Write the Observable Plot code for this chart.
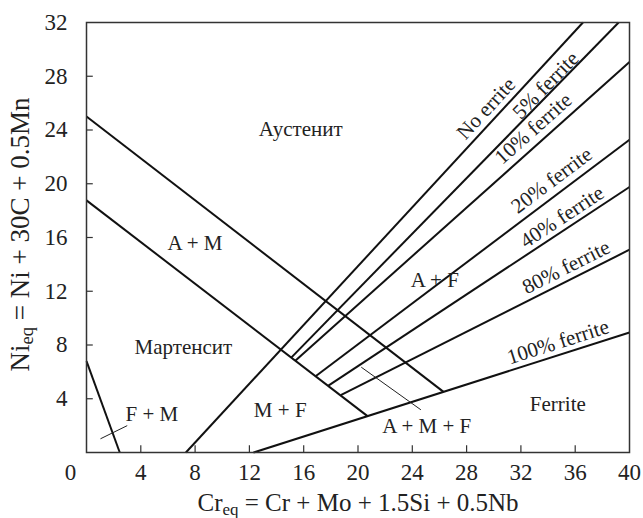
<!DOCTYPE html>
<html><head><meta charset="utf-8">
<script src="https://cdn.jsdelivr.net/npm/d3@7"></script>
<script src="https://cdn.jsdelivr.net/npm/@observablehq/plot@0.6"></script>
<style>
body{margin:0;background:#fff}
svg{display:block}
#chart svg, #chart svg text { font-family: "Liberation Serif", "Times New Roman", serif !important; }
</style>
</head><body><div id="chart"></div>
<script>
// Tick values
const xTickLabels = [4, 8, 12, 16, 20, 24, 28, 32, 36, 40];
const yTickLabels = [4, 8, 12, 16, 20, 24, 28, 32];
const xTickMarks = [4, 8, 12, 16, 20, 24, 28, 32, 36];
const yTickMarks = [4, 8, 12, 16, 20, 24, 28];

// Boundary lines [x1, y1, x2, y2] in (Cr_eq, Ni_eq)
const austeniteBoundary = [0, 25, 26.3, 4.51];
const martensiteBoundary = [0, 18.76, 20.7, 2.71];
const fmBoundary = [0, 6.8, 2.45, 0];
const noFerrite = [7.32, 0, 36.57, 32];
const ferrite5 = [15.1, 7.08, 39.2, 32];
const ferrite10 = [15.4, 6.85, 40, 29.06];
const ferrite20 = [16.9, 5.69, 40, 23.28];
const ferrite40 = [17.82, 4.98, 40, 19.76];
const ferrite80 = [18.73, 4.27, 40, 15.09];
const ferrite100 = [12.3, 0, 40, 8.93];
const leaderFM = [1.03, 1.02, 3.0, 2.0];
const leaderAMF = [20.24, 6.35, 24.63, 3.18];

// Region labels
const regionNames = ["Аустенит", "A + M", "Мартенсит", "F + M", "M + F", "A + F", "A + M + F", "Ferrite"];
const regionX = [15.78, 7.99, 7.14, 4.82, 14.27, 25.66, 25.06, 34.72];
const regionY = [24.03, 15.54, 7.85, 2.88, 3.13, 12.81, 1.94, 3.57];

// Iso-ferrite line labels
const ferriteNames = ["No errite", "5% ferrite", "10% ferrite", "20% ferrite", "40% ferrite", "80% ferrite", "100% ferrite"];
const ferriteLabelX = [29.44, 33.82, 32.91, 34.27, 35.03, 35.33, 34.73];
const ferriteLabelY = [25.6, 27.33, 24.1, 20.26, 17.53, 13.8, 8.22];
const ferriteLines = [noFerrite, ferrite5, ferrite10, ferrite20, ferrite40, ferrite80, ferrite100];

const xLabel = "Cr_eq = Cr + Mo + 1.5Si + 0.5Nb";
const yLabel = "Ni_eq = Ni + 30C + 0.5Mn";

const W = 643, H = 518;
const mL = 86, mR = 14, mT = 22, mB = 66;
const pxPerX = (W - mL - mR) / 40, pxPerY = (H - mT - mB) / 32;

const mainSegs = [austeniteBoundary, martensiteBoundary, fmBoundary, ...ferriteLines]
  .map(([x1, y1, x2, y2]) => ({x1, y1, x2, y2}));
const thinSegs = [leaderFM, leaderAMF].map(([x1, y1, x2, y2]) => ({x1, y1, x2, y2}));
const regions = regionNames.map((t, i) => ({t, x: regionX[i], y: regionY[i]}));
const ferriteLabels = ferriteNames.map((t, i) => {
  const [x1, y1, x2, y2] = ferriteLines[i];
  const slope = (y2 - y1) / (x2 - x1) * pxPerY / pxPerX;
  return {t, x: ferriteLabelX[i], y: ferriteLabelY[i], r: -Math.atan(slope) * 180 / Math.PI};
});

const serif = "Liberation Serif";
const chart = Plot.plot({
  width: W, height: H,
  marginLeft: mL, marginRight: mR, marginTop: mT, marginBottom: mB,
  style: {fontFamily: serif, fontSize: "23px", background: "#fff", color: "#222"},
  x: {domain: [0, 40], ticks: xTickLabels, tickSize: 0, tickPadding: 11, label: null},
  y: {domain: [0, 32], ticks: yTickLabels, tickSize: 0, tickPadding: 19, label: null},
  marks: [
    Plot.ruleX(xTickMarks, {x: d => d, y1: 0, y2: 0.5, stroke: "#333", strokeWidth: 1.2}),
    Plot.ruleY(yTickMarks, {y: d => d, x1: 0, x2: 0.5, stroke: "#333", strokeWidth: 1.2}),
    Plot.link(mainSegs, {x1: "x1", y1: "y1", x2: "x2", y2: "y2", stroke: "#111", strokeWidth: 2}),
    Plot.link(thinSegs, {x1: "x1", y1: "y1", x2: "x2", y2: "y2", stroke: "#222", strokeWidth: 1}),
    Plot.text(regions, {x: "x", y: "y", text: "t", fontSize: 21, fontFamily: serif, fill: "#222", lineAnchor: "middle"}),
    Plot.text(ferriteLabels, {x: "x", y: "y", text: "t", rotate: "r", fontSize: 21, fontFamily: serif, fill: "#222", lineAnchor: "middle"}),
    Plot.text([0], {x: d => d, y: 0, text: d => String(d), dx: -16, dy: 20, fontSize: 23, fontFamily: serif, fill: "#222", lineAnchor: "middle"}),
    Plot.text([xLabel], {frameAnchor: "bottom", text: d => d, dy: 50, fontSize: 25, fontFamily: serif, fill: "#222", textAnchor: "middle", lineAnchor: "middle"}),
    Plot.text([yLabel], {frameAnchor: "left", text: d => d, dx: -66, dy: -3, rotate: -90, fontSize: 27, fontFamily: serif, fill: "#222", textAnchor: "middle", lineAnchor: "middle"}),
    Plot.frame({stroke: "#333", strokeWidth: 1.5})
  ]
});

// Render "_eq" as subscript
d3.select(chart).selectAll("text").each(function() {
  const t = this.textContent;
  if (!t.includes("_eq")) return;
  const [a, b] = t.split("_eq");
  const sel = d3.select(this);
  sel.text(null);
  sel.append("tspan").text(a);
  sel.append("tspan").attr("font-size", "0.68em").attr("dy", "4").text("eq");
  sel.append("tspan").attr("dy", "-4").text(b);
});

document.getElementById("chart").appendChild(chart);
</script>
</body></html>
